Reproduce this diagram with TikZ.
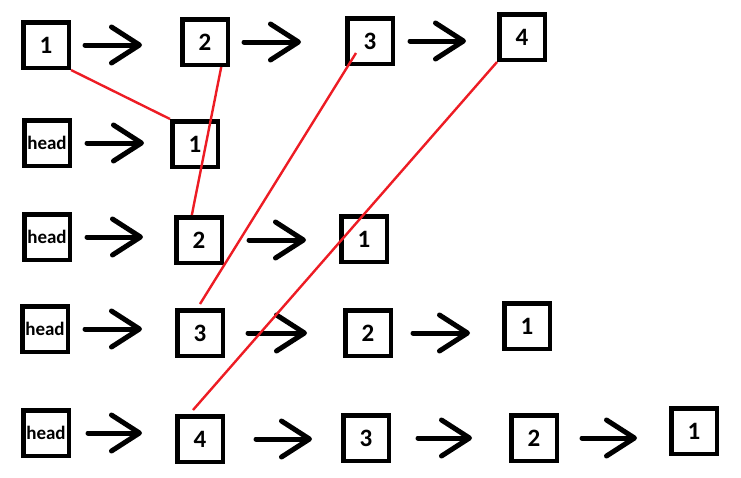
\documentclass[tikz,border=0pt]{standalone}
\usepackage{fontspec}
\setmainfont{Carlito}
\usepackage{tikz}
\usetikzlibrary{arrows.meta,calc}
\definecolor{lred}{HTML}{ED1C24}
\tikzset{
  lbox/.style={draw=black, line width=4.5pt, minimum width=45.5pt, minimum height=45.5pt,
               inner sep=0pt, font=\fontsize{25}{25}\selectfont\bfseries},
  lhead/.style={lbox, font=\fontsize{19}{19}\selectfont\bfseries},
  lnext/.style={line width=5pt, line cap=round, -{Straight Barb[length=28pt, width=36pt, round]}},
  lmove/.style={lred, line width=2.4pt},
}
\begin{document}
\begin{tikzpicture}[x=1pt,y=-1pt]
  \useasboundingbox (0,0) rectangle (741,477);

  % list before reversal
  \node[lbox] (a1) at (46,45) {1};
  \node[lbox] (a2) at (205,42) {2};
  \node[lbox] (a3) at (370,41) {3};
  \node[lbox] (a4) at (522,37) {4};
  \draw[lnext, yshift=-3pt, shorten <=14pt, shorten >=38pt] (a1.east) -- (a1.east -| a2.west);
  \draw[lnext, yshift=-3pt, shorten <=14pt, shorten >=44pt] (a2.east) -- (a2.east -| a3.west);
  \draw[lnext, yshift=-3pt, shorten <=15pt, shorten >=31pt] (a3.east) -- (a3.east -| a4.west);

  % step 1
  \node[lhead] (h2) at (47,143) {head};
  \node[lbox] (b1) at (195,144) {1};
  \draw[lnext, yshift=-3pt, shorten <=15pt, shorten >=26pt] (h2.east) -- (h2.east -| b1.west);

  % step 2
  \node[lhead] (h3) at (47,237) {head};
  \node[lbox] (c2) at (199,240) {2};
  \node[lbox] (c1) at (364,239) {1};
  \draw[lnext, yshift=-3pt, shorten <=15pt, shorten >=31pt] (h3.east) -- (h3.east -| c2.west);
  \draw[lnext, shorten <=25pt, shorten >=33pt] (c2.east) -- (c2.east -| c1.west);

  % step 3
  \node[lhead] (h4) at (45,329) {head};
  \node[lbox] (d3) at (200,333) {3};
  \node[lbox] (d2) at (368,333) {2};
  \node[lbox] (d1) at (527,326) {1};
  \draw[lnext, yshift=-3pt, shorten <=15pt, shorten >=33pt] (h4.east) -- (h4.east -| d3.west);
  \draw[lnext, shorten <=23pt, shorten >=36pt] (d3.east) -- (d3.east -| d2.west);
  \draw[lnext, yshift=4pt, shorten <=20pt, shorten >=32pt] (d2.east) -- (d2.east -| d1.west);

  % step 4
  \node[lhead] (h5) at (46,433) {head};
  \node[lbox] (e4) at (200,439) {4};
  \node[lbox] (e3) at (366,438) {3};
  \node[lbox] (e2) at (534,438) {2};
  \node[lbox] (e1) at (694,431) {1};
  \draw[lnext, yshift=-4pt, shorten <=17pt, shorten >=33pt] (h5.east) -- (h5.east -| e4.west);
  \draw[lnext, shorten <=31pt, shorten >=29pt] (e4.east) -- (e4.east -| e3.west);
  \draw[lnext, shorten <=27pt, shorten >=37pt] (e3.east) -- (e3.east -| e2.west);
  \draw[lnext, yshift=4pt, shorten <=23pt, shorten >=32pt] (e2.east) -- (e2.east -| e1.west);

  % where each node goes
  \draw[lmove] (a1.south east) -- (b1.north west);
  \draw[lmove] (a2.-57) -- (c2.106);
  \draw[lmove] ($(a3)+(-14,12)$) -- ([yshift=4pt]d3.north);
  \draw[lmove] (a4.south west) -- ([xshift=-7pt,yshift=4pt]e4.north);

\end{tikzpicture}
\end{document}
